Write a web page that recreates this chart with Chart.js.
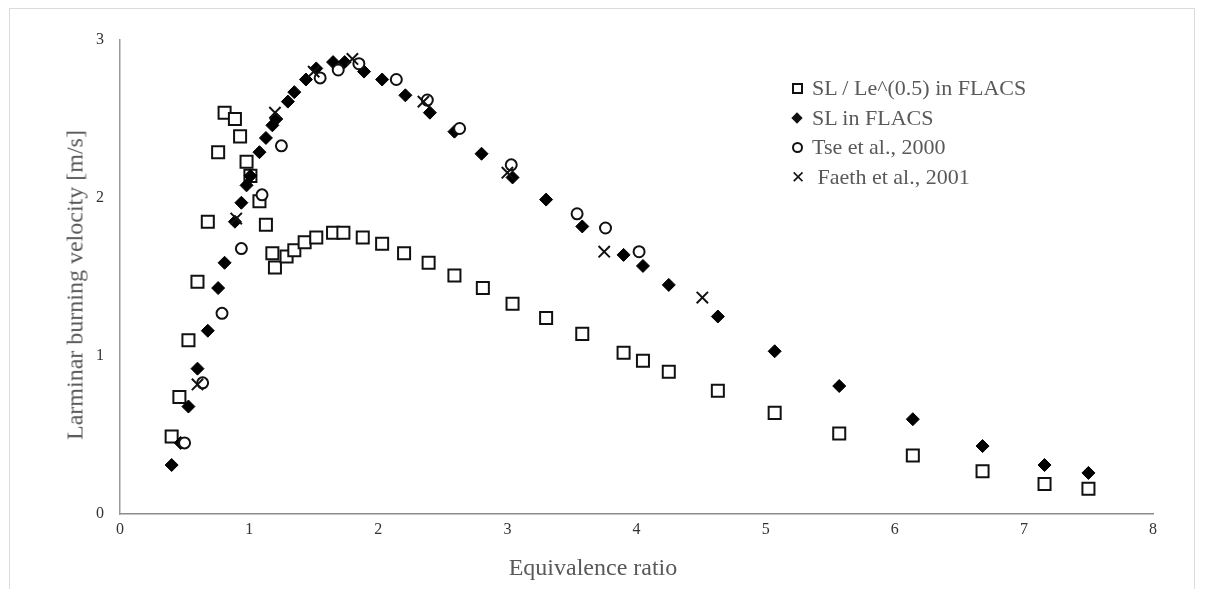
<!DOCTYPE html>
<html>
<head>
<meta charset="utf-8">
<script src="https://cdn.jsdelivr.net/npm/chart.js@4.4.1/dist/chart.umd.min.js"></script>
<style>
  html, body { margin: 0; padding: 0; background: #fff; }
  #wrap { position: relative; width: 1205px; height: 589px; overflow: hidden; }
  #frame { position: absolute; left: 9px; top: 8px; width: 1186px; height: 600px; border: 1px solid #dcdcdc; box-sizing: border-box; }
  canvas { position: absolute; left: 0; top: 0; }
  .title { position: absolute; font-family: "Liberation Serif", "Times New Roman", serif; font-size: 24px; color: #595959; white-space: nowrap; }
  #xTitle { left: 593px; top: 567px; transform: translate(-50%, -50%); }
  #yTitle { left: 75px; top: 285px; transform: translate(-50%, -50%) rotate(-90deg); }
  .leg { position: absolute; left: 790px; height: 26px; line-height: 26px; font-family: "Liberation Serif", "Times New Roman", serif; font-size: 22px; color: #595959; white-space: pre; }
  .leg span.txt { position: absolute; left: 22px; top: 0; }
  .mk { position: absolute; box-sizing: border-box; }
  .mk.sq { left: 2px; top: 8px; width: 11px; height: 11px; border: 2px solid #111; background: #fff; }
  .mk.dm { left: 3px; top: 9px; width: 8px; height: 8px; background: #111; transform: rotate(45deg); }
  .mk.ci { left: 2px; top: 8px; width: 11px; height: 11px; border: 2px solid #111; border-radius: 50%; }
  .mk.x { left: 1px; top: 0; font-family: "DejaVu Sans", sans-serif; font-size: 17px; color: #111; }
</style>
</head>
<body>
<div id="wrap">
  <div id="frame"></div>
  <canvas id="chart" width="1205" height="589"></canvas>
  <div class="title" id="xTitle">Equivalence ratio</div>
  <div class="title" id="yTitle">Larminar burning velocity [m/s]</div>
  <div class="leg" style="top:75px"><div class="mk sq"></div><span class="txt">SL / Le^(0.5) in FLACS</span></div>
  <div class="leg" style="top:105px"><div class="mk dm"></div><span class="txt">SL in FLACS</span></div>
  <div class="leg" style="top:134px"><div class="mk ci"></div><span class="txt">Tse et al., 2000</span></div>
  <div class="leg" style="top:164px"><div class="mk x">✕</div><span class="txt"> Faeth et al., 2001</span></div>
</div>
<script>
// SL / Le^(0.5) in FLACS
let phiLe = [0.40, 0.46, 0.53, 0.60, 0.68, 0.76, 0.81, 0.89, 0.93, 0.98, 1.01, 1.08, 1.13, 1.18, 1.20,
  1.29, 1.35, 1.43, 1.52, 1.65, 1.73, 1.88, 2.03, 2.20, 2.39, 2.59, 2.81, 3.04, 3.30, 3.58,
  3.90, 4.05, 4.25, 4.63, 5.07, 5.57, 6.14, 6.68, 7.16, 7.50];
let slLe = [0.49, 0.74, 1.10, 1.47, 1.85, 2.29, 2.54, 2.50, 2.39, 2.23, 2.14, 1.98, 1.83, 1.65, 1.56,
  1.63, 1.67, 1.72, 1.75, 1.78, 1.78, 1.75, 1.71, 1.65, 1.59, 1.51, 1.43, 1.33, 1.24, 1.14,
  1.02, 0.97, 0.90, 0.78, 0.64, 0.51, 0.37, 0.27, 0.19, 0.16];

// SL in FLACS
let phiSL = [0.40, 0.47, 0.53, 0.60, 0.68, 0.76, 0.81, 0.89, 0.94, 0.98, 1.01, 1.08, 1.13, 1.18, 1.21,
  1.30, 1.35, 1.44, 1.52, 1.65, 1.74, 1.89, 2.03, 2.21, 2.40, 2.59, 2.80, 3.04, 3.30, 3.58,
  3.90, 4.05, 4.25, 4.63, 5.07, 5.57, 6.14, 6.68, 7.16, 7.50];
let slSL = [0.31, 0.45, 0.68, 0.92, 1.16, 1.43, 1.59, 1.85, 1.97, 2.08, 2.14, 2.29, 2.38, 2.46, 2.50,
  2.61, 2.67, 2.75, 2.82, 2.86, 2.86, 2.80, 2.75, 2.65, 2.54, 2.42, 2.28, 2.13, 1.99, 1.82,
  1.64, 1.57, 1.45, 1.25, 1.03, 0.81, 0.60, 0.43, 0.31, 0.26];

// Tse et al., 2000
let phiTse = [0.50, 0.64, 0.79, 0.94, 1.10, 1.25, 1.55, 1.69, 1.85, 2.14, 2.38, 2.63, 3.03, 3.54, 3.76, 4.02];
let slTse = [0.45, 0.83, 1.27, 1.68, 2.02, 2.33, 2.76, 2.81, 2.85, 2.75, 2.62, 2.44, 2.21, 1.90, 1.81, 1.66];

// Faeth et al., 2001
let phiFaeth = [0.60, 0.90, 1.20, 1.50, 1.80, 2.35, 3.00, 3.75, 4.51];
let slFaeth = [0.82, 1.87, 2.54, 2.80, 2.88, 2.61, 2.16, 1.66, 1.37];

let xTicks = [0, 1, 2, 3, 4, 5, 6, 7, 8];
let yTicks = [0, 1, 2, 3];

function toPoints(xs, ys) {
  return xs.map((x, i) => ({ x: x, y: ys[i] }));
}

let ctx = document.getElementById('chart').getContext('2d');

const data = {
  datasets: [
    {
      label: 'SL / Le^(0.5) in FLACS',
      data: toPoints(phiLe, slLe),
      pointStyle: 'rect',
      pointRadius: 8.5,
      borderWidth: 2,
      borderColor: '#111',
      backgroundColor: '#fff',
      order: 4,
    },
    {
      label: 'SL in FLACS',
      data: toPoints(phiSL, slSL),
      pointStyle: 'rectRot',
      pointRadius: 6.5,
      borderWidth: 1,
      borderColor: '#000',
      backgroundColor: '#000',
      order: 3,
    },
    {
      label: 'Tse et al., 2000',
      data: toPoints(phiTse, slTse),
      pointStyle: 'circle',
      pointRadius: 5.5,
      borderWidth: 2,
      borderColor: '#111',
      backgroundColor: '#fff',
      order: 2,
    },
    {
      label: 'Faeth et al., 2001',
      data: toPoints(phiFaeth, slFaeth),
      pointStyle: 'crossRot',
      pointRadius: 8,
      borderWidth: 2,
      borderColor: '#111',
      backgroundColor: '#111',
      order: 1,
    },
  ],
};

const tickFont = { family: 'Liberation Serif', size: 16 };

const config = {
  type: 'scatter',
  data: data,
  options: {
    responsive: false,
    animation: false,
    events: [],
    layout: { padding: { top: 40, right: 52, left: 0, bottom: 0 } },
    plugins: {
      legend: { display: false },
      tooltip: { enabled: false },
    },
    scales: {
      x: {
        type: 'linear',
        min: xTicks[0],
        max: xTicks[xTicks.length - 1],
        afterBuildTicks: (scale) => { scale.ticks = xTicks.map((v) => ({ value: v })); },
        afterFit: (scale) => { scale.height = 75; },
        grid: { display: false, drawTicks: false },
        border: { display: true, color: '#8c8c8c', width: 1.5 },
        ticks: { font: tickFont, color: '#333', padding: 6, maxRotation: 0 },
      },
      y: {
        type: 'linear',
        min: yTicks[0],
        max: yTicks[yTicks.length - 1],
        afterBuildTicks: (scale) => { scale.ticks = yTicks.map((v) => ({ value: v })); },
        afterFit: (scale) => { scale.width = 120; },
        grid: { display: false, drawTicks: false },
        border: { display: true, color: '#9a9a9a', width: 1.5 },
        ticks: { font: tickFont, color: '#333', padding: 16 },
      },
    },
  },
};

new Chart(ctx, config);
</script>
</body>
</html>
